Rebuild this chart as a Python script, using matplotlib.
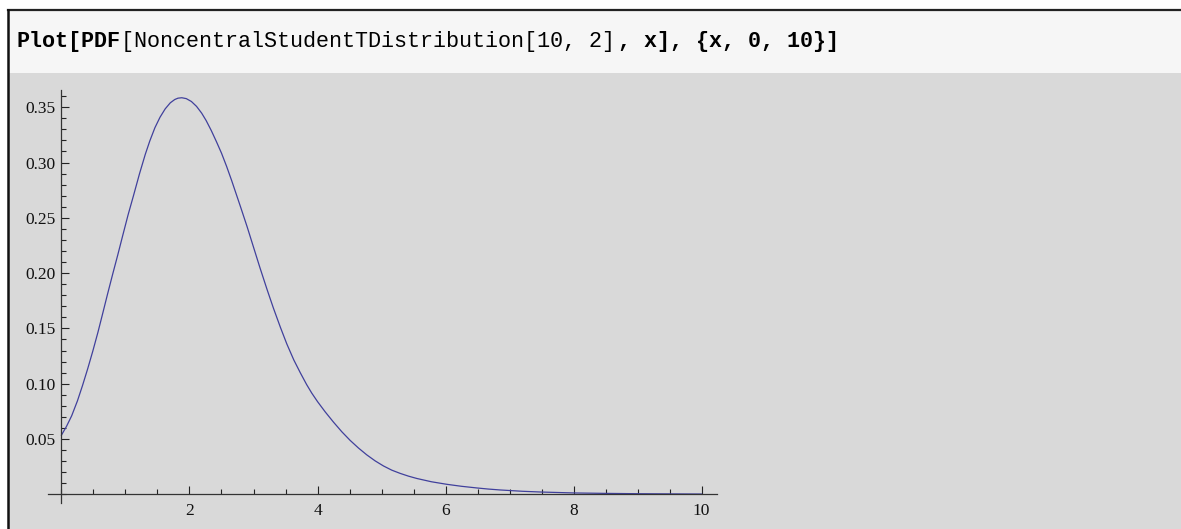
import matplotlib
matplotlib.use("Agg")
import matplotlib.pyplot as plt
from matplotlib.patches import Rectangle
from matplotlib.lines import Line2D
from matplotlib.ticker import MultipleLocator, FixedLocator

# values
x_vals = [0.0, 0.08, 0.16, 0.25, 0.33, 0.41, 0.49, 0.57, 0.64, 0.72, 0.80,
          0.88, 0.955, 1.04, 1.125, 1.22, 1.31, 1.38, 1.46, 1.54, 1.62, 1.70,
          1.77, 1.82, 1.88, 1.95, 2.03, 2.11, 2.19, 2.26, 2.34, 2.42, 2.50,
          2.58, 2.66, 2.73, 2.80, 2.90, 3.0, 3.10, 3.21, 3.31, 3.42, 3.52,
          3.63, 3.73, 3.83, 3.91, 4.0, 4.12, 4.25, 4.38, 4.51, 4.64, 4.77,
          4.90, 5.03, 5.16, 5.29, 5.42, 5.55, 5.78, 6.02, 6.25, 6.49, 6.67,
          6.85, 7.2, 7.5, 8.0, 8.5, 9.0, 10.0]
pdf_vals = [0.0535, 0.0615, 0.071, 0.0845, 0.0985, 0.1135, 0.1295, 0.1465,
            0.1625, 0.181, 0.199, 0.2165, 0.2335, 0.2525, 0.270, 0.290,
            0.3075, 0.3195, 0.3315, 0.341, 0.3485, 0.354, 0.357, 0.3582,
            0.3586, 0.3578, 0.3552, 0.3508, 0.3447, 0.338, 0.329, 0.319,
            0.3085, 0.2965, 0.2835, 0.2715, 0.2595, 0.242, 0.2235, 0.205,
            0.1855, 0.1685, 0.151, 0.136, 0.1214, 0.110, 0.0992, 0.0915,
            0.0838, 0.0745, 0.0652, 0.0565, 0.0487, 0.0418, 0.0356, 0.0302,
            0.0256, 0.0218, 0.0189, 0.0164, 0.0143, 0.0113, 0.009, 0.0072,
            0.0057, 0.0047, 0.0039, 0.0027, 0.002, 0.0012, 0.0008, 0.0005,
            0.0002]
x_ticks = [2, 4, 6, 8, 10]
y_ticks = [0.05, 0.10, 0.15, 0.20, 0.25, 0.30, 0.35]

W, H = 1181, 529
fig = plt.figure(figsize=(W / 100, H / 100), dpi=100)
fig.patch.set_facecolor("white")


#pixel box (from top-left) -> figure fraction rectangle
def box(x0, y0, x1, y1):
    return [x0 / W, 1 - y1 / H, (x1 - x0) / W, (y1 - y0) / H]


# notebook cells: input cell, output cell, borders
b = box(9, 10, W, 73)
fig.add_artist(Rectangle((b[0], b[1]), b[2], b[3], transform=fig.transFigure,
                         facecolor="#f6f6f6", edgecolor="none", zorder=0))
b = box(9, 73, W, H)
fig.add_artist(Rectangle((b[0], b[1]), b[2], b[3], transform=fig.transFigure,
                         facecolor="#d9d9d9", edgecolor="none", zorder=0))
fig.add_artist(Line2D([8 / W, 1], [1 - 10 / H, 1 - 10 / H], transform=fig.transFigure,
                      color="#222222", lw=1.6, zorder=1))
fig.add_artist(Line2D([8 / W, 8 / W], [0, 1 - 10 / H], transform=fig.transFigure,
                      color="#111111", lw=1.8, zorder=1))

# input line, mixed bold / plain courier
parts = [("Plot[PDF", "bold"),
         ("[NoncentralStudentTDistribution[10, 2]", "normal"),
         (", x], {x, 0, 10}]", "bold")]
fs = 15.7
char_w = 0.6 * fs * 100 / 72
pos = 16
for txt, wt in parts:
    fig.text(pos / W, 1 - 42 / H, txt, family="Liberation Mono", weight=wt,
             fontsize=fs, va="center", ha="left", color="black")
    pos += len(txt) * char_w

# plot area
ax = fig.add_axes(box(48, 90, 717, 503))
ax.set_facecolor("none")
ax.plot(x_vals, pdf_vals, color="#40409c", lw=0.9, solid_joinstyle="round")

ax.set_xlim(-0.21, 10.24)
ax.set_ylim(-0.0079, 0.3656)
for s in ["top", "right"]:
    ax.spines[s].set_visible(False)
ax.spines["left"].set_position(("data", 0))
ax.spines["bottom"].set_position(("data", 0))
for s in ["left", "bottom"]:
    ax.spines[s].set_color("#333333")
    ax.spines[s].set_linewidth(0.9)

ax.xaxis.set_major_locator(FixedLocator(x_ticks))
ax.xaxis.set_minor_locator(MultipleLocator(0.5))
ax.yaxis.set_major_locator(FixedLocator(y_ticks))
ax.yaxis.set_minor_locator(MultipleLocator(0.01))
ax.set_xticklabels([str(t) for t in x_ticks])
ax.set_yticklabels(["%.2f" % t for t in y_ticks])

ax.tick_params(which="both", direction="in", color="#222222", width=0.8,
               labelsize=12.5, labelcolor="#111111")
ax.tick_params(which="major", length=5.5)
ax.tick_params(which="minor", length=3.4)
ax.tick_params(axis="x", pad=6)
ax.tick_params(axis="y", pad=4)
for lab in ax.get_xticklabels() + ax.get_yticklabels():
    lab.set_family("Liberation Serif")

fig.savefig("out.png", dpi=100)
